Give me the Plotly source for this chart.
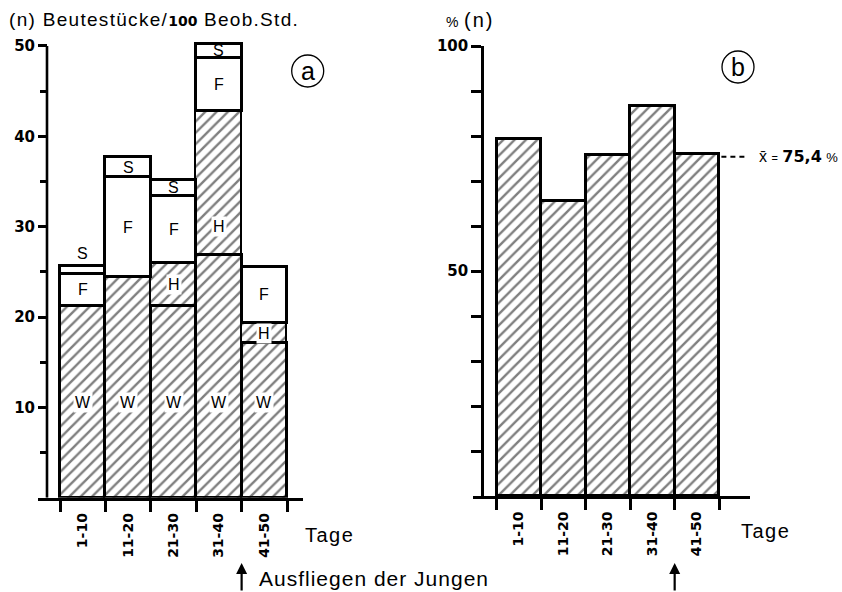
import plotly.graph_objects as go

# ---------------- data ----------------
categories = ["1-10", "11-20", "21-30", "31-40", "41-50"]
# panel a: prey items per 100 observation hours, stacked
W = [21.2, 24.4, 21.2, 26.9, 17.1]
H = [None, None, 4.8, 15.9, 2.2]
F = [3.6, 11.1, 7.4, 5.9, 6.3]
S = [0.9, 2.2, 1.8, 1.5, None]
# panel b: percentage
pct = [79.3, 65.6, 75.8, 86.7, 76.0]
mean_pct = 75.4
ticks_a = [10, 20, 30, 40, 50]
ticks_b = [50, 100]

W_W, W_H = 842, 592
FONT = "Liberation Sans, Arial, sans-serif"
BOLD = "DejaVu Sans, sans-serif"


def px(x):
    return x / W_W


def py(y):
    return 1 - y / W_H


def ls(text, sp):
    return f"<span style='letter-spacing:{sp}px'>{text}</span>"


xs = list(range(len(categories)))
hatch = dict(shape="/", fgcolor="black", bgcolor="white", size=8, solidity=0.3)

fig = go.Figure()


def add_seg(vals, hatched, xa, ya, lw=2.6):
    m = dict(color="white", line=dict(color="black", width=lw))
    if hatched:
        m["pattern"] = hatch
    fig.add_trace(go.Bar(x=xs, y=vals, width=1, marker=m, xaxis=xa, yaxis=ya,
                         cliponaxis=False, showlegend=False, hoverinfo="skip"))


add_seg(W, True, "x", "y")
add_seg(H, True, "x", "y", 1.8)
add_seg(F, False, "x", "y")
add_seg(S, False, "x", "y")
add_seg(pct, True, "x2", "y2")

annotations = []

# segment labels (panel a)
W_label_y = 10.5
label_override = {(3, "H"): 30.0}
for i in xs:
    base = 0
    for name, arr in (("W", W), ("H", H), ("F", F), ("S", S)):
        v = arr[i]
        if v is None:
            continue
        if name == "W":
            yl = W_label_y
        elif v < 1.2:
            yl = base + v + 1.3
        else:
            yl = base + v / 2
        yl = label_override.get((i, name), yl)
        annotations.append(dict(
            x=i, y=yl, xref="x", yref="y", text=name, showarrow=False,
            xanchor="center", yanchor="middle",
            font=dict(family=FONT, size=16, color="black"),
            bgcolor="white" if name in ("W", "H") and v >= 1.2 else "rgba(0,0,0,0)",
            borderpad=1))
        base += v


def txt(x, y, text, size, family=FONT, xanchor="left", yref="paper"):
    return dict(x=px(x), y=(py(y) if yref == "paper" else y), xref="paper", yref=yref,
                xanchor=xanchor, yanchor="middle", text=text, showarrow=False,
                font=dict(family=family, size=size, color="black"))


annotations += [
    txt(7, 20, ls("(n) Beutestücke/", 1.3)
        + f"<span style='font-family:{BOLD};font-weight:bold;font-size:14px'>100</span>"
        + ls(" Beob.Std.", 1.3), 19),
    txt(444, 20, "<span style='font-size:14px'>%</span> " + ls("(n)", 2), 20),
    txt(303, 535, ls("Tage", 1.5), 20),
    txt(739, 531, ls("Tage", 1.5), 20),
    txt(257, 578, ls("Ausfliegen der Jungen", 1), 21),
    txt(307.7, 71, "a", 25, xanchor="center"),
    txt(738, 67, "b", 25, xanchor="center"),
    dict(x=px(757), y=mean_pct, xref="paper", yref="y2", xanchor="left", yanchor="middle",
         text="x̄ <span style='font-size:11px'>=</span> "
              f"<span style='font-family:{BOLD};font-weight:bold'>75,4</span>"
              " <span style='font-size:13px'>%</span>",
         showarrow=False, font=dict(family=FONT, size=16, color="black")),
    # arrows
    dict(x=3.5, y=py(563), xref="x", yref="paper", ax=0, ay=29, axref="pixel", ayref="pixel",
         text="", showarrow=True, arrowhead=2, arrowsize=1, arrowwidth=2.2, arrowcolor="black"),
    dict(x=3.5, y=py(563), xref="x2", yref="paper", ax=0, ay=29, axref="pixel", ayref="pixel",
         text="", showarrow=True, arrowhead=2, arrowsize=1, arrowwidth=2.2, arrowcolor="black"),
]

shapes = [
    # y axis line of panel a (only from 0 to 50)
    dict(type="line", xref="paper", yref="y", x0=px(47), x1=px(47), y0=0, y1=50,
         line=dict(color="black", width=2.6)),
    dict(type="circle", xref="paper", yref="paper", x0=px(291.7), x1=px(323.7),
         y0=py(87), y1=py(55), line=dict(color="black", width=1.3)),
    dict(type="circle", xref="paper", yref="paper", x0=px(722), x1=px(754),
         y0=py(83), y1=py(51), line=dict(color="black", width=1.3)),
    dict(type="line", xref="x2", yref="y2", x0=4.55, x1=5.15, y0=mean_pct, y1=mean_pct,
         line=dict(color="black", width=2, dash="5px,4px")),
]

tickfont = dict(family=BOLD, size=15, color="black", weight="bold")
cattickfont = dict(family=BOLD, size=14, color="black", weight="bold")

y_px_per_unit = (497.7 - 46) / 50

fig.update_layout(
    width=W_W, height=W_H, margin=dict(l=0, r=0, t=0, b=0, autoexpand=False),
    paper_bgcolor="white", plot_bgcolor="white", barmode="stack", bargap=0,
    showlegend=False, annotations=annotations, shapes=shapes,
    xaxis=dict(domain=[px(38), px(303)], range=[-0.985, 4.852], anchor="y",
               showline=True, linecolor="black", linewidth=2.6, showgrid=False,
               zeroline=False, tickmode="array", tickvals=xs, ticktext=categories,
               ticks="outside", ticklen=0, tickangle=-90, tickfont=cattickfont,
               ticklabelstandoff=7, automargin=False,
               minor=dict(tickvals=[i - 0.5 for i in range(len(xs) + 1)], ticks="outside",
                          ticklen=11, tickwidth=2.6, tickcolor="black")),
    yaxis=dict(domain=[py(497.7), py(497.7 - 53 * y_px_per_unit)], range=[0, 53],
               anchor="free", position=px(47),
               showline=False, showgrid=False,
               zeroline=False, tickmode="array", tickvals=ticks_a, ticks="outside",
               ticklen=9, tickwidth=2.6, tickcolor="black", tickfont=tickfont,
               automargin=False,
               minor=dict(tickvals=[5, 15, 25, 35, 45], ticks="outside", ticklen=7,
                          tickwidth=2.6, tickcolor="black")),
    xaxis2=dict(domain=[px(472.7), px(750)], range=[-1.039, 5.193], anchor="y2",
                showline=True, linecolor="black", linewidth=2.6, showgrid=False,
                zeroline=False, tickmode="array", tickvals=xs, ticktext=categories,
                ticks="outside", ticklen=0, tickangle=-90, tickfont=cattickfont,
                ticklabelstandoff=7, automargin=False,
                minor=dict(tickvals=[i - 0.5 for i in range(len(xs) + 1)], ticks="outside",
                           ticklen=11, tickwidth=2.6, tickcolor="black")),
    yaxis2=dict(domain=[py(496), py(46)], range=[0, 100], anchor="free", position=px(482),
                showline=True, linecolor="black", linewidth=2.6, showgrid=False,
                zeroline=False, tickmode="array", tickvals=ticks_b, ticks="outside",
                ticklen=10, tickwidth=2.6, tickcolor="black", tickfont=tickfont,
                automargin=False,
                minor=dict(tickvals=[10, 20, 30, 40, 60, 70, 80, 90], ticks="outside",
                           ticklen=10, tickwidth=2.6, tickcolor="black")),
)

fig.write_html("out.html")
